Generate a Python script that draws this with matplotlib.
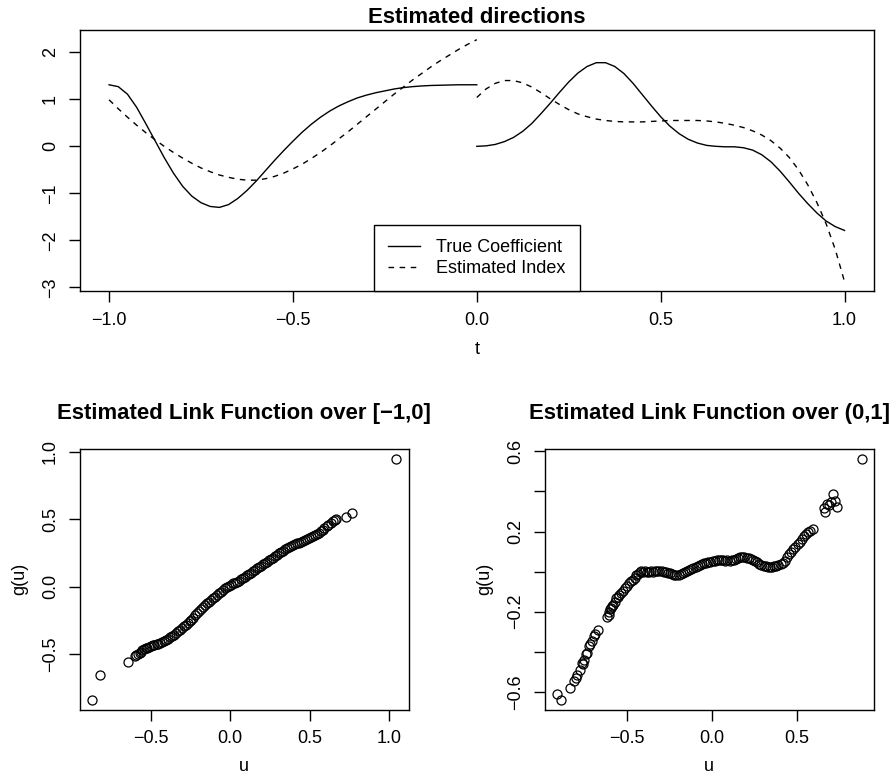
import numpy as np
import matplotlib
matplotlib.use('Agg')
import matplotlib.pyplot as plt

plt.rcParams['font.family'] = ['Liberation Sans', 'DejaVu Sans']
plt.rcParams['font.size'] = 13

# top panel: coefficient and estimated index on [-1,0] and (0,1]
t_left = [-1.0, -0.975, -0.95, -0.925, -0.9, -0.875, -0.85, -0.825, -0.8, -0.775,
          -0.75, -0.725, -0.7, -0.675, -0.65, -0.625, -0.6, -0.575, -0.55, -0.525,
          -0.5, -0.475, -0.45, -0.425, -0.4, -0.375, -0.35, -0.325, -0.3, -0.275,
          -0.25, -0.225, -0.2, -0.175, -0.15, -0.125, -0.1, -0.075, -0.05, -0.025, 0.0]
true_left = [1.31, 1.27, 1.11, 0.83, 0.48, 0.12, -0.24, -0.57, -0.85, -1.06,
             -1.20, -1.28, -1.30, -1.24, -1.11, -0.94, -0.74, -0.52, -0.30, -0.09,
             0.11, 0.30, 0.47, 0.62, 0.75, 0.86, 0.95, 1.03, 1.09, 1.14,
             1.18, 1.22, 1.25, 1.27, 1.285, 1.295, 1.30, 1.305, 1.31, 1.31, 1.31]
est_left = [0.99, 0.80, 0.62, 0.45, 0.29, 0.14, 0.00, -0.13, -0.25, -0.36,
            -0.46, -0.54, -0.61, -0.66, -0.70, -0.72, -0.72, -0.69, -0.64, -0.57,
            -0.48, -0.38, -0.26, -0.13, 0.01, 0.16, 0.31, 0.47, 0.63, 0.79,
            0.95, 1.11, 1.26, 1.41, 1.55, 1.69, 1.82, 1.94, 2.06, 2.17, 2.27]

t_right = [0.0, 0.025, 0.05, 0.075, 0.1, 0.125, 0.15, 0.175, 0.2, 0.225,
           0.25, 0.275, 0.3, 0.325, 0.35, 0.375, 0.4, 0.425, 0.45, 0.475,
           0.5, 0.525, 0.55, 0.575, 0.6, 0.625, 0.65, 0.675, 0.7, 0.725,
           0.75, 0.775, 0.8, 0.825, 0.85, 0.875, 0.9, 0.925, 0.95, 0.975, 1.0]
true_right = [0.00, 0.01, 0.04, 0.10, 0.19, 0.32, 0.49, 0.70, 0.92, 1.15,
              1.37, 1.56, 1.70, 1.78, 1.78, 1.70, 1.55, 1.34, 1.10, 0.86,
              0.63, 0.43, 0.27, 0.15, 0.07, 0.02, 0.00, -0.01, -0.01, -0.03,
              -0.08, -0.18, -0.33, -0.53, -0.76, -1.00, -1.22, -1.42, -1.59, -1.71, -1.79]
est_right = [1.04, 1.22, 1.34, 1.40, 1.40, 1.35, 1.26, 1.14, 1.01, 0.89,
             0.78, 0.69, 0.63, 0.58, 0.55, 0.53, 0.52, 0.52, 0.52, 0.53,
             0.54, 0.55, 0.55, 0.55, 0.55, 0.54, 0.52, 0.49, 0.45, 0.40,
             0.33, 0.24, 0.12, -0.04, -0.24, -0.50, -0.82, -1.20, -1.65, -2.20, -2.88]

# link function over [-1,0]
u1 = [-0.870, -0.820, -0.645,
      -0.600, -0.590, -0.582, -0.570, -0.561, -0.553, -0.540, -0.531, -0.522, -0.510,
      -0.498, -0.487, -0.476, -0.463, -0.451, -0.440, -0.428, -0.417, -0.405, -0.393,
      -0.380, -0.368, -0.355, -0.342, -0.330, -0.318, -0.305, -0.292, -0.280, -0.268,
      -0.255, -0.243, -0.231, -0.218, -0.206, -0.193, -0.181, -0.168, -0.156, -0.143,
      -0.131, -0.118, -0.106, -0.093, -0.081, -0.068, -0.056, -0.043, -0.031, -0.018,
      -0.006, 0.007, 0.019, 0.032, 0.044, 0.057, 0.069, 0.082, 0.094, 0.107,
      0.119, 0.132, 0.144, 0.157, 0.169, 0.182, 0.194, 0.207, 0.219, 0.232,
      0.244, 0.257, 0.269, 0.282, 0.294, 0.307, 0.319, 0.332, 0.344, 0.357,
      0.369, 0.382, 0.394, 0.407, 0.419, 0.432, 0.444, 0.457, 0.469, 0.482,
      0.494, 0.507, 0.519, 0.532, 0.544, 0.557, 0.569, 0.582, 0.594, 0.607,
      0.619, 0.632, 0.645, 0.657, 0.665,
      0.729, 0.767, 1.047]
g1 = [-0.839, -0.655, -0.556,
      -0.510, -0.503, -0.497, -0.488, -0.480, -0.472, -0.462, -0.456, -0.452, -0.446,
      -0.440, -0.435, -0.431, -0.427, -0.421, -0.416, -0.409, -0.403, -0.395, -0.386,
      -0.376, -0.366, -0.355, -0.343, -0.331, -0.319, -0.306, -0.293, -0.281, -0.269,
      -0.256, -0.243, -0.229, -0.213, -0.198, -0.182, -0.167, -0.152, -0.138, -0.123,
      -0.110, -0.097, -0.085, -0.073, -0.061, -0.048, -0.036, -0.024, -0.013, -0.003,
      0.006, 0.015, 0.024, 0.031, 0.037, 0.045, 0.055, 0.065, 0.075, 0.086,
      0.095, 0.105, 0.115, 0.126, 0.135, 0.145, 0.155, 0.165, 0.176, 0.186,
      0.196, 0.206, 0.216, 0.226, 0.236, 0.246, 0.255, 0.266, 0.276, 0.285,
      0.293, 0.300, 0.306, 0.313, 0.320, 0.327, 0.334, 0.340, 0.346, 0.352,
      0.358, 0.365, 0.372, 0.380, 0.388, 0.398, 0.410, 0.422, 0.435, 0.447,
      0.460, 0.472, 0.484, 0.494, 0.505,
      0.513, 0.543, 0.948]

# link function over (0,1]
u2 = [-0.910, -0.887, -0.837, -0.812, -0.800, -0.792, -0.775, -0.767, -0.760, -0.752,
      -0.743, -0.735, -0.724, -0.715, -0.705, -0.694, -0.685, -0.671,
      -0.615, -0.607, -0.603, -0.598, -0.594, -0.588, -0.580, -0.572, -0.565, -0.555,
      -0.545, -0.532, -0.520, -0.510, -0.498, -0.487, -0.476, -0.466, -0.455, -0.445,
      -0.435, -0.425, -0.415, -0.405,
      -0.395, -0.383, -0.370, -0.358, -0.345, -0.333, -0.320, -0.308, -0.295, -0.283,
      -0.270, -0.258, -0.245, -0.233, -0.220, -0.208, -0.195, -0.183, -0.170, -0.158,
      -0.145, -0.133, -0.120, -0.108, -0.095, -0.083, -0.070, -0.058, -0.045, -0.033,
      -0.020, -0.008, 0.005, 0.017, 0.030, 0.042, 0.055, 0.067, 0.080, 0.092,
      0.105, 0.117, 0.130, 0.142, 0.155, 0.167, 0.180, 0.192, 0.205, 0.217,
      0.230, 0.242, 0.255, 0.267, 0.280, 0.292, 0.305, 0.317, 0.330, 0.342,
      0.355, 0.367, 0.380, 0.392, 0.405, 0.417, 0.430, 0.442, 0.455, 0.467,
      0.480, 0.492, 0.505, 0.517, 0.530, 0.542, 0.555, 0.567, 0.580, 0.597,
      0.665, 0.663, 0.675, 0.690, 0.700, 0.714, 0.724, 0.739, 0.881]
g2 = [-0.611, -0.640, -0.578, -0.546, -0.530, -0.513, -0.490, -0.455, -0.460, -0.440,
      -0.413, -0.405, -0.372, -0.360, -0.345, -0.323, -0.310, -0.290,
      -0.225, -0.215, -0.200, -0.188, -0.180, -0.172, -0.165, -0.150, -0.130, -0.125,
      -0.118, -0.108, -0.095, -0.080, -0.070, -0.058, -0.048, -0.040, -0.030, -0.018,
      -0.010, 0.000, 0.004, -0.002,
      0.002, 0.000, -0.002, 0.001, 0.000, 0.003, 0.002, 0.001, 0.003, -0.002,
      -0.004, -0.006, -0.009, -0.012, -0.015, -0.018, -0.019, -0.014, -0.008, -0.003,
      0.004, 0.009, 0.014, 0.019, 0.024, 0.029, 0.033, 0.037, 0.041, 0.044,
      0.046, 0.048, 0.051, 0.054, 0.056, 0.058, 0.059, 0.057, 0.055, 0.056,
      0.055, 0.057, 0.060, 0.064, 0.068, 0.071, 0.073, 0.072, 0.070, 0.067,
      0.063, 0.058, 0.052, 0.046, 0.040, 0.034, 0.030, 0.026, 0.024, 0.023,
      0.024, 0.026, 0.028, 0.031, 0.036, 0.043, 0.055, 0.072, 0.088, 0.100,
      0.112, 0.125, 0.137, 0.150, 0.163, 0.178, 0.190, 0.198, 0.202, 0.214,
      0.296, 0.318, 0.338, 0.330, 0.345, 0.387, 0.354, 0.324, 0.563]


def lab(v):
    return ('%.1f' % v).replace('-', '\u2212')


def r_style(ax):
    for s in ax.spines.values():
        s.set_linewidth(1.0)
    ax.tick_params(direction='out', length=7.8, width=1.0, pad=7, labelsize=13)
    plt.setp(ax.get_yticklabels(), rotation=90, va='center')


fig = plt.figure(figsize=(8.96, 7.75), dpi=100)

# top panel
ax = fig.add_axes([0.0889, 0.6241, 0.8865, 0.3372])
ax.plot(t_left, true_left, c='black', lw=1.0, label='True Coefficient')
ax.plot(t_left, est_left, c='black', lw=1.0, ls=(0, (4, 4)), label='Estimated Index')
ax.plot(t_right, true_right, c='black', lw=1.0)
ax.plot(t_right, est_right, c='black', lw=1.0, ls=(0, (4, 4)))
ax.margins(0.04)
ax.set_xticks([-1.0, -0.5, 0.0, 0.5, 1.0], [lab(v) for v in [-1.0, -0.5, 0.0, 0.5, 1.0]])
ax.set_yticks([-3, -2, -1, 0, 1, 2], ['\u22123', '\u22122', '\u22121', '0', '1', '2'])
ax.set_xlabel('t', labelpad=9)
ax.set_title('Estimated directions', fontsize=15.9, fontweight='bold', pad=5.3)
leg = ax.legend(loc='lower center', bbox_to_anchor=(0.5, 0), borderaxespad=0,
                fancybox=False, edgecolor='black', framealpha=1, fontsize=13,
                handlelength=1.75, handletextpad=0.9, borderpad=0.8, labelspacing=0.2)
leg.get_frame().set_linewidth(1.0)
r_style(ax)

# bottom left
ax1 = fig.add_axes([0.0889, 0.0843, 0.3672, 0.3363])
ax1.plot(u1, g1, 'o', ms=6.5, mfc='none', mec='black', mew=0.9)
ax1.margins(0.04)
ax1.set_xticks([-0.5, 0.0, 0.5, 1.0], [lab(v) for v in [-0.5, 0.0, 0.5, 1.0]])
ax1.set_yticks([-0.5, 0.0, 0.5, 1.0], [lab(v) for v in [-0.5, 0.0, 0.5, 1.0]])
ax1.set_xlabel('u', labelpad=8)
ax1.set_ylabel('g(u)', labelpad=10)
ax1.set_title('Estimated Link Function over [\u22121,0]', fontsize=15.9, fontweight='bold', pad=21.4)
r_style(ax1)

# bottom right
ax2 = fig.add_axes([0.6083, 0.0843, 0.3668, 0.3363])
ax2.plot(u2, g2, 'o', ms=6.5, mfc='none', mec='black', mew=0.9)
ax2.margins(0.04)
ax2.set_xticks([-0.5, 0.0, 0.5], [lab(v) for v in [-0.5, 0.0, 0.5]])
yt = [-0.6, -0.4, -0.2, 0.0, 0.2, 0.4, 0.6]
ax2.set_yticks(yt, [lab(v) if i % 2 == 0 else '' for i, v in enumerate(yt)])
ax2.set_xlabel('u', labelpad=8)
ax2.set_ylabel('g(u)', labelpad=10)
ax2.set_title('Estimated Link Function over (0,1]', fontsize=15.9, fontweight='bold', pad=21.4)
r_style(ax2)

fig.savefig('out.png', dpi=100)
